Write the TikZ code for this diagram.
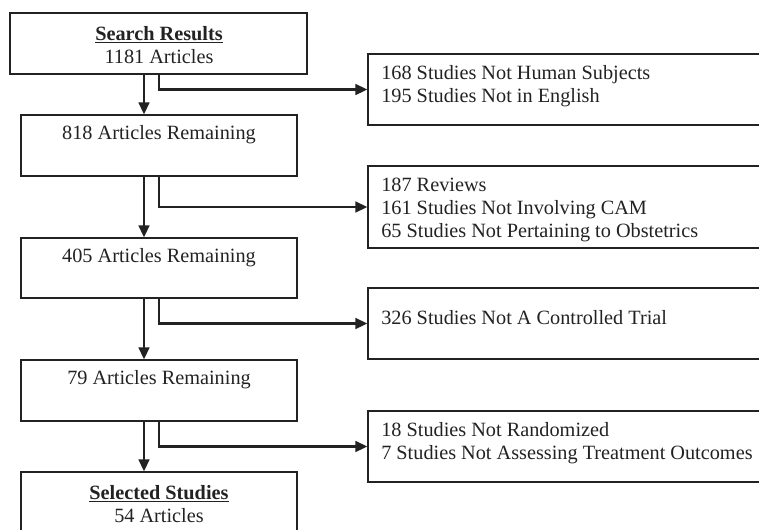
\documentclass[tikz,border=0pt]{standalone}
\usepackage{fontspec}
\setmainfont{Liberation Serif}
\usetikzlibrary{arrows.meta,fit}
\definecolor{ink}{HTML}{222222}
\tikzset{
  box/.style={draw=ink, line width=0.9pt, inner sep=0pt, fit={#1}},
  arr/.style={draw=ink, line width=1.9pt, -{Triangle[length=9pt,width=8pt]}},
  txt/.style={inner sep=0pt, text=ink, font=\fontsize{15.2}{17.25}\selectfont},
}
\begin{document}
\begin{tikzpicture}[x=0.75pt,y=-0.75pt]
\useasboundingbox (0,0) rectangle (759,529);
\begin{scope}
\clip (0,0) rectangle (759,529);
% left column boxes
\node[box={(10,13) (307,74)}] (b1) {};
\node[box={(21,115) (297,176)}] (b2) {};
\node[box={(21,238) (297,298)}] (b3) {};
\node[box={(21,360) (297,421)}] (b4) {};
\node[box={(21,472) (297,545)}] (b5) {};
% right column boxes
\node[box={(368,54) (775,125)}] (r1) {};
\node[box={(368,166) (775,248)}] (r2) {};
\node[box={(368,288) (775,359)}] (r3) {};
\node[box={(368,411) (775,482)}] (r4) {};
\end{scope}
% texts
\node[txt, align=center] (t1) at (159,45) {\underline{\textbf{Search Results}}\\1181 Articles};
\node[txt] (t2) at (159,135) {818 Articles Remaining};
\node[txt] (t3) at (159,258) {405 Articles Remaining};
\node[txt] (t4) at (159,380) {79 Articles Remaining};
\node[txt, align=center] (t5) at (159,504) {\underline{\textbf{Selected Studies}}\\54 Articles};
\node[txt, align=left, anchor=west] (s1) at (381,86.5) {168 Studies Not Human Subjects\\195 Studies Not in English};
\node[txt, align=left, anchor=west] (s2) at (381,209.5) {187 Reviews\\161 Studies Not Involving CAM\\65 Studies Not Pertaining to Obstetrics};
\node[txt, anchor=west] (s3) at (381,318) {326 Studies Not A Controlled Trial};
\node[txt, align=left, anchor=west] (s4) at (381,443) {18 Studies Not Randomized\\7 Studies Not Assessing Treatment Outcomes};
% connectors
\coordinate (ax) at (144,0);
\coordinate (bx) at (159,0);
\draw[arr] (ax |- b1.south) -- (ax |- b2.north);
\draw[arr] (ax |- b2.south) -- (ax |- b3.north);
\draw[arr] (ax |- b3.south) -- (ax |- b4.north);
\draw[arr] (ax |- b4.south) -- (ax |- b5.north);
\draw[arr] (bx |- b1.south) |- (r1.west);
\draw[arr] (bx |- b2.south) |- (r2.west);
\draw[arr] (bx |- b3.south) |- (r3.west);
\draw[arr] (bx |- b4.south) |- (r4.west);
\end{tikzpicture}
\end{document}
